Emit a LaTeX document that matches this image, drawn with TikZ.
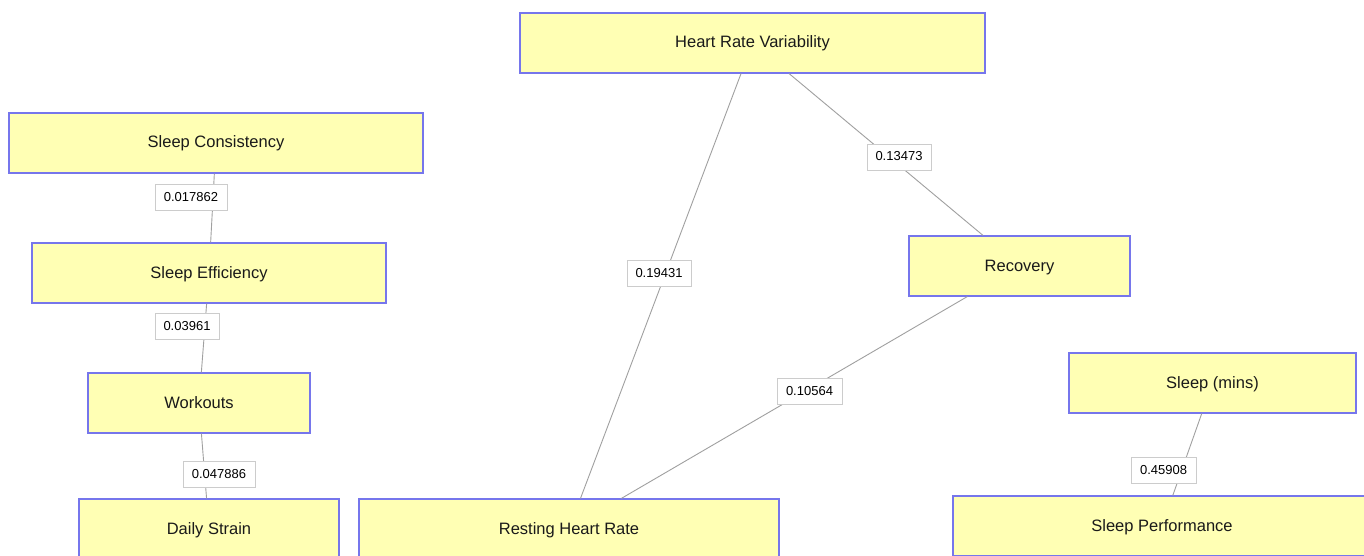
\documentclass[tikz,border=0pt]{standalone}
\usepackage{fontspec}
\setmainfont{Liberation Sans}
\definecolor{boxblue}{RGB}{118,118,236}
\definecolor{boxfill}{RGB}{255,255,180}
\definecolor{edgegray}{RGB}{160,160,160}
\definecolor{labelgray}{RGB}{204,204,204}
\definecolor{inkdark}{RGB}{26,26,26}
\tikzset {
  % variable box
  factor/.style = {
    draw = boxblue,
    fill = boxfill,
    line width = 1.2pt,
    rectangle,
    minimum height = 60pt,
    inner sep = 0,
    text height = 10pt,
    text depth = 0pt,
    text = inkdark,
    font = \fontsize{16.5}{20}\selectfont
  },
  % correlation weight
  weight/.style = {
    draw = labelgray,
    fill = white,
    line width = 0.8pt,
    rectangle,
    minimum height = 26pt,
    inner sep = 0,
    text height = 8pt,
    text depth = 0pt,
    font = \fontsize{13}{16}\selectfont
  },
  link/.style = {
    draw = edgegray,
    line width = 0.9pt
  }
}
\begin{document}
\begin{tikzpicture}[x=1pt,y=-1pt]
  \useasboundingbox (0,0) rectangle (1364,556);
  \clip (0,0) rectangle (1364,556);
  \fill[white] (0,0) rectangle (1364,556);

  \node[factor, minimum width=465pt] (hrv) at (752.5,43) {Heart Rate Variability};
  \node[factor, minimum width=414pt] (consistency) at (216,143) {Sleep Consistency};
  \node[factor, minimum width=354pt] (efficiency) at (209,273) {Sleep Efficiency};
  \node[factor, minimum width=222pt] (workouts) at (199,403) {Workouts};
  \node[factor, minimum width=260pt] (strain) at (209,529) {Daily Strain};
  \node[factor, minimum width=420pt] (rhr) at (569,529) {Resting Heart Rate};
  \node[factor, minimum width=221pt] (recovery) at (1019.5,266) {Recovery};
  \node[factor, minimum width=287pt] (sleepmins) at (1212.5,383) {Sleep (mins)};
  \node[factor, minimum width=418pt] (performance) at (1162,526) {Sleep Performance};

  \draw[link] (consistency) -- (efficiency);
  \draw[link] (efficiency) -- (workouts);
  \draw[link] (workouts) -- (strain);
  \draw[link] (hrv) -- (rhr);
  \draw[link] (hrv) -- (recovery);
  \draw[link] (recovery) -- (rhr);
  \draw[link] (sleepmins) -- (performance);

  \node[weight, minimum width=72pt] (w-consistency) at (191,197.5) {0.017862};
  \node[weight, minimum width=64pt] (w-efficiency) at (187,326.5) {0.03961};
  \node[weight, minimum width=72pt] (w-workouts) at (219,474.5) {0.047886};
  \node[weight, minimum width=64pt] (w-hrv-rhr) at (659,273) {0.19431};
  \node[weight, minimum width=64pt] (w-hrv-recovery) at (899,157) {0.13473};
  \node[weight, minimum width=65pt] (w-recovery) at (809.5,391) {0.10564};
  \node[weight, minimum width=65pt] (w-sleep) at (1163.5,470) {0.45908};
\end{tikzpicture}
\end{document}
